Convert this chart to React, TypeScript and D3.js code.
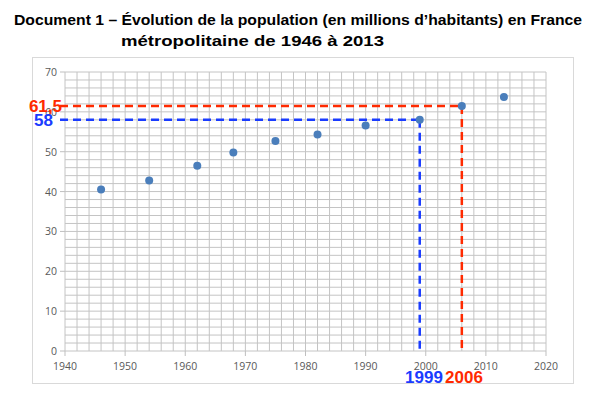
import React from "react";
import * as d3 from "d3";

// population in millions, France métropolitaine
const years = [1946, 1954, 1962, 1968, 1975, 1982, 1990, 1999, 2006, 2013];
const population = [40.5, 42.8, 46.5, 49.8, 52.7, 54.3, 56.6, 58, 61.5, 63.7];

const xTicks = [1940, 1950, 1960, 1970, 1980, 1990, 2000, 2010, 2020];
const yTicks = [0, 10, 20, 30, 40, 50, 60, 70];

// reading lines drawn on the document
const readBlue = { year: 1999, value: 58, label: "58" };
const readRed = { year: 2006, value: 61.5, label: "61,5" };

const W = 593;
const H = 393;
const plot = { left: 65, right: 546, top: 72, bottom: 351 };

export default function App() {
  const x = d3.scaleLinear().domain([1940, 2020]).range([plot.left, plot.right]);
  const y = d3.scaleLinear().domain([0, 70]).range([plot.bottom, plot.top]);

  const gridX = d3.range(1940, 2021, 2);
  const gridY = d3.range(0, 71, 2);

  const tickFont = "'Open Sans', 'Liberation Sans', sans-serif";
  const boldFont = "'Liberation Sans', Arial, sans-serif";
  const red = "#ff2a00";
  const blue = "#1a3cff";
  const dash = "8,5";

  return (
    <svg width={W} height={H} style={{ position: "absolute", left: 0, top: 0, background: "#fff" }}>
      {/* title */}
      <text x={14} y={25} textLength={568} lengthAdjust="spacingAndGlyphs" fontFamily={boldFont} fontWeight="bold" fontSize={15.5} fill="#000">
        Document 1 – Évolution de la population (en millions d’habitants) en France
      </text>
      <text x={121} y={46} textLength={263} lengthAdjust="spacingAndGlyphs" fontFamily={boldFont} fontWeight="bold" fontSize={15.5} fill="#000">
        métropolitaine de 1946 à 2013
      </text>

      {/* chart frame */}
      <rect x={32.5} y={57.5} width={541} height={326} fill="none" stroke="#d9d9d9" />

      {/* grid */}
      {gridX.map(v => (
        <line key={"gx" + v} x1={x(v)} x2={x(v)} y1={plot.top} y2={plot.bottom} stroke="#c4c4c4" />
      ))}
      {gridY.map(v => (
        <line key={"gy" + v} x1={plot.left} x2={plot.right} y1={y(v)} y2={y(v)} stroke="#c4c4c4" />
      ))}

      {/* axes ticks */}
      {yTicks.map(v => (
        <g key={"yt" + v}>
          <line x1={plot.left - 5} x2={plot.left} y1={y(v)} y2={y(v)} stroke="#bfbfbf" />
          <text x={plot.left - 8} y={y(v) + 4} textAnchor="end" fontFamily={tickFont} fontSize={10.5} fill="#595959">
            {v}
          </text>
        </g>
      ))}
      {xTicks.map(v => (
        <g key={"xt" + v}>
          <line x1={x(v)} x2={x(v)} y1={plot.bottom} y2={plot.bottom + 5} stroke="#bfbfbf" />
          <text x={x(v)} y={plot.bottom + 19} textAnchor="middle" fontFamily={tickFont} fontSize={10.5} fill="#595959">
            {v}
          </text>
        </g>
      ))}

      {/* reading lines */}
      {[readRed, readBlue].map(r => {
        const c = r === readRed ? red : blue;
        return (
          <g key={r.label}>
            <line x1={60} x2={x(r.year)} y1={y(r.value)} y2={y(r.value)} stroke={c} strokeWidth={2.5} strokeDasharray={dash} />
            <line x1={x(r.year)} x2={x(r.year)} y1={y(r.value)} y2={plot.bottom + 2} stroke={c} strokeWidth={2.5} strokeDasharray={dash} />
          </g>
        );
      })}

      {/* points */}
      {years.map((yr, i) => (
        <circle key={yr} cx={x(yr)} cy={y(population[i])} r={4} fill="#4a7ebb" />
      ))}

      {/* reading labels */}
      <text x={62} y={y(readRed.value) + 6} textAnchor="end" fontFamily={boldFont} fontWeight="bold" fontSize={17} fill={red}>
        {readRed.label}
      </text>
      <text x={53} y={y(readBlue.value) + 6} textAnchor="end" fontFamily={boldFont} fontWeight="bold" fontSize={17} fill={blue}>
        {readBlue.label}
      </text>
      <text x={424} y={383} textAnchor="middle" fontFamily={boldFont} fontWeight="bold" fontSize={17} fill={blue}>
        {readBlue.year}
      </text>
      <text x={464} y={383} textAnchor="middle" fontFamily={boldFont} fontWeight="bold" fontSize={17} fill={red}>
        {readRed.year}
      </text>
    </svg>
  );
}
